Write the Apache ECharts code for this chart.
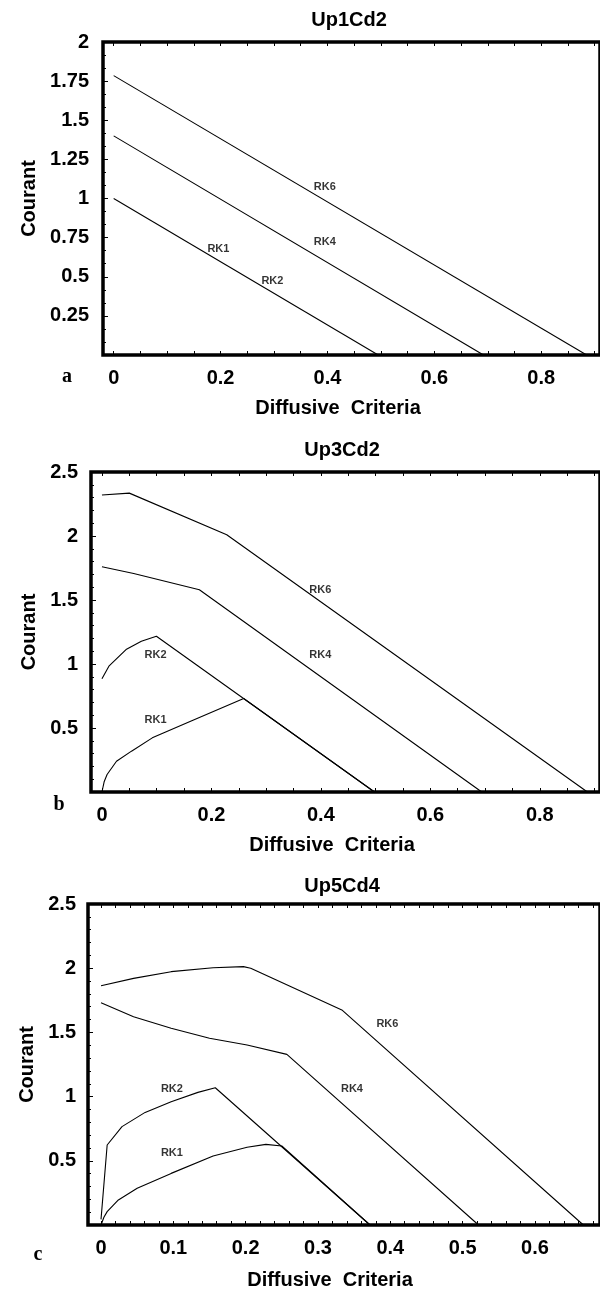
<!DOCTYPE html>
<html><head><meta charset="utf-8">
<script src="https://cdn.jsdelivr.net/npm/echarts@6/dist/echarts.min.js"></script>
<style>html,body{margin:0;padding:0;background:#fff}#c{width:600px;height:1295px}</style>
</head><body><div id="c"></div>
<script>
// ---------------- data ----------------
const titles = ['Up1Cd2', 'Up3Cd2', 'Up5Cd4'];
const panelLetters = ['a', 'b', 'c'];
const xAxisName = 'Diffusive  Criteria';
const yAxisName = 'Courant';

// tick labels
const xLabelsA = [0, 0.2, 0.4, 0.6, 0.8];
const xLabelsB = [0, 0.2, 0.4, 0.6, 0.8];
const xLabelsC = [0, 0.1, 0.2, 0.3, 0.4, 0.5, 0.6];

// panel a (Up1Cd2): [diffusive criteria, courant]
const aRK12 = [[0, 1.0], [0.495, 0]];
const aRK4  = [[0, 1.40], [0.692, 0]];
const aRK6  = [[0, 1.785], [0.885, 0]];

// panel b (Up3Cd2)
const bRK1 = [[0, 0], [0.004, 0.08], [0.0094, 0.137], [0.0266, 0.24], [0.054, 0.319], [0.092, 0.423], [0.162, 0.553], [0.259, 0.73], [0.498, 0]];
const bRK2 = [[0, 0.884], [0.0127, 0.983], [0.044, 1.113], [0.072, 1.178], [0.0995, 1.217], [0.498, 0]];
const bRK4 = [[0, 1.76], [0.058, 1.707], [0.178, 1.58], [0.694, 0]];
const bRK6 = [[0, 2.32], [0.05, 2.335], [0.228, 2.01], [0.887, 0]];

// panel c (Up5Cd4)
const cRK1 = [[0, 0], [0.004, 0.06], [0.0085, 0.104], [0.024, 0.195], [0.05, 0.286], [0.097, 0.402], [0.155, 0.537], [0.202, 0.605], [0.228, 0.628], [0.25, 0.615], [0.372, 0]];
const cRK2 = [[0, 0.044], [0.0085, 0.623], [0.029, 0.766], [0.061, 0.877], [0.097, 0.96], [0.134, 1.033], [0.158, 1.069], [0.372, 0]];
const cRK4 = [[0, 1.731], [0.045, 1.622], [0.097, 1.532], [0.15, 1.454], [0.202, 1.402], [0.257, 1.329], [0.522, 0]];
const cRK6 = [[0, 1.864], [0.045, 1.921], [0.097, 1.973], [0.155, 2.004], [0.197, 2.012], [0.207, 2.0], [0.333, 1.675], [0.667, 0]];

// curve labels: [name, x, y] in data units
const aLabels = [['RK6', 0.395, 1.075], ['RK4', 0.395, 0.722], ['RK1', 0.196, 0.678], ['RK2', 0.297, 0.472]];
const bLabels = [['RK6', 0.399, 1.577], ['RK4', 0.399, 1.072], ['RK2', 0.098, 1.072], ['RK1', 0.098, 0.566]];
const cLabels = [['RK6', 0.396, 1.563], ['RK4', 0.347, 1.057], ['RK2', 0.098, 1.057], ['RK1', 0.098, 0.558]];

// ---------------- chart ----------------
const FONT = '"Liberation Sans", Arial, Helvetica, sans-serif';
function ticks(step, max) { const r = []; for (let i = 0; i * step <= max + 1e-9; i++) r.push(+(i * step).toFixed(4)); return r; }

const panels = [
  { grid: { left: 103, top: 42, width: 504, height: 313 }, xmin: -0.02, xmax: 0.91, xLabels: xLabelsA, xTicks: ticks(0.05, 0.9),
    ymax: 2, yint: 0.25, yMinor: 3, ylabMargin: 14, nameGap: 64,
    series: [aRK12, aRK4, aRK6], labels: aLabels,
    title: [349, 20], xname: [338, 408], letter: [67, 377] },
  { grid: { left: 91, top: 472, width: 513, height: 320 }, xmin: -0.02, xmax: 0.91, xLabels: xLabelsB, xTicks: ticks(0.05, 0.9),
    ymax: 2.5, yint: 0.5, yMinor: 5, ylabMargin: 13, nameGap: 52,
    series: [bRK1, bRK2, bRK4, bRK6], labels: bLabels,
    title: [342, 450], xname: [332, 845], letter: [59, 805] },
  { grid: { left: 88, top: 904, width: 518, height: 321 }, xmin: -0.018, xmax: 0.69, xLabels: xLabelsC, xTicks: ticks(0.02, 0.68),
    ymax: 2.5, yint: 0.5, yMinor: 5, ylabMargin: 12, nameGap: 49,
    series: [cRK1, cRK2, cRK4, cRK6], labels: cLabels,
    title: [342, 886], xname: [330, 1280], letter: [38, 1255] }
];

const option = { animation: false, grid: [], xAxis: [], yAxis: [], series: [], graphic: [] };

panels.forEach((p, i) => {
  option.grid.push(Object.assign({ show: true, borderColor: '#000', borderWidth: 3.5, backgroundColor: 'transparent' }, p.grid));
  // bottom x axis
  option.xAxis.push({
    type: 'value', gridIndex: i, min: p.xmin, max: p.xmax, position: 'bottom',
    axisLine: { show: false, onZero: false }, splitLine: { show: false },
    axisTick: { show: true, inside: true, length: 4, customValues: p.xTicks, lineStyle: { color: '#000', width: 1 } },
    axisLabel: { show: true, customValues: p.xLabels, margin: 13, color: '#000', fontSize: 20, fontWeight: 'bold', fontFamily: FONT }
  });
  // top x axis (ticks only)
  option.xAxis.push({
    type: 'value', gridIndex: i, min: p.xmin, max: p.xmax, position: 'top',
    axisLine: { show: false, onZero: false }, splitLine: { show: false },
    axisTick: { show: true, inside: true, length: 4, customValues: p.xTicks, lineStyle: { color: '#000', width: 1 } },
    axisLabel: { show: false }
  });
  option.yAxis.push({
    type: 'value', gridIndex: i, min: 0, max: p.ymax, interval: p.yint, position: 'left',
    axisLine: { show: false, onZero: false }, splitLine: { show: false },
    axisTick: { show: true, inside: true, length: 5, lineStyle: { color: '#000', width: 1 } },
    minorTick: { show: true, splitNumber: p.yMinor, length: 3, lineStyle: { color: '#000', width: 1 } },
    axisLabel: { show: true, showMinLabel: false, margin: p.ylabMargin, color: '#000', fontSize: 20, fontWeight: 'bold', fontFamily: FONT },
    name: yAxisName, nameLocation: 'middle', nameRotate: 90, nameGap: p.nameGap,
    nameTextStyle: { color: '#000', fontSize: 20, fontWeight: 'bold', fontFamily: FONT }
  });
  p.series.forEach(d => {
    option.series.push({
      type: 'line', xAxisIndex: i * 2, yAxisIndex: i, data: d, symbol: 'none', silent: true,
      lineStyle: { color: '#000', width: 1.1 }
    });
  });
  option.series.push({
    type: 'scatter', xAxisIndex: i * 2, yAxisIndex: i, symbolSize: 1, silent: true,
    itemStyle: { color: 'rgba(0,0,0,0)' },
    data: p.labels.map(l => ({ name: l[0], value: [l[1], l[2]] })),
    label: { show: true, position: 'inside', formatter: '{b}', color: '#000', fontSize: 11, fontWeight: 'bold', fontFamily: FONT }
  });
  option.graphic.push({ type: 'text', x: p.title[0], y: p.title[1], silent: true,
    style: { text: titles[i], fill: '#000', font: 'bold 20px ' + FONT, align: 'center', verticalAlign: 'middle' } });
  option.graphic.push({ type: 'text', x: p.xname[0], y: p.xname[1], silent: true,
    style: { text: xAxisName, fill: '#000', font: 'bold 20px ' + FONT, align: 'center', verticalAlign: 'middle' } });
  option.graphic.push({ type: 'text', x: p.letter[0], y: p.letter[1], silent: true,
    style: { text: panelLetters[i], fill: '#000', font: 'bold 20px "Liberation Serif", "Times New Roman", serif', align: 'center', verticalAlign: 'middle' } });
});

const chart = echarts.init(document.getElementById('c'), null, { renderer: 'canvas' });
chart.setOption(option);
</script>
</body></html>
